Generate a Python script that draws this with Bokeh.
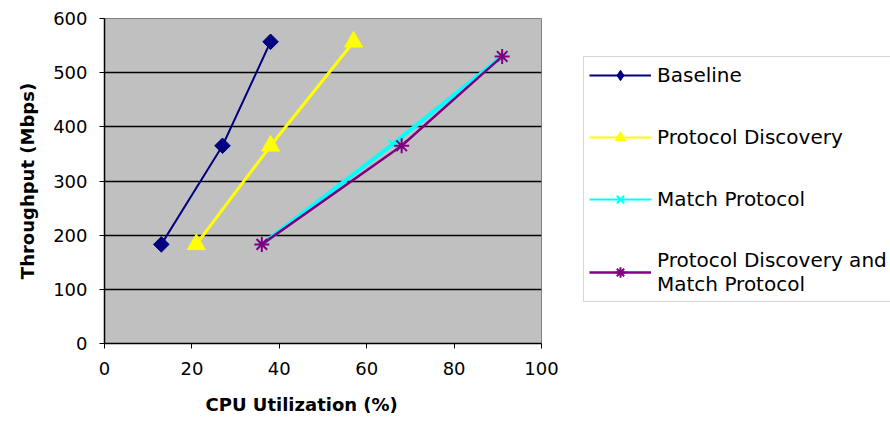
import numpy as np
from bokeh.plotting import figure
from bokeh.layouts import row
from bokeh.models import Legend, LegendItem, FixedTicker, Range1d, Title
from bokeh.embed import file_html
from bokeh.resources import INLINE

# ---- data ----
base_x = [13, 27, 38]
base_y = [183, 365, 557]
pd_x = [21, 38, 57]
pd_y = [183, 365, 557]
mp_x = [36, 66, 91]
mp_y = [183, 368, 530]
pdmp_x = [36, 68, 91]
pdmp_y = [183, 365, 530]
series_names = ["Baseline", "Protocol Discovery", "Match Protocol",
                "Protocol Discovery and\nMatch Protocol"]
x_ticks = [0, 20, 40, 60, 80, 100]
y_ticks = [0, 100, 200, 300, 400, 500, 600]
x_title = "CPU Utilization (%)"
y_title = "Throughput (Mbps)"

FONT = "DejaVu Sans"
C_BASE, C_PD, C_MP, C_PDMP = "#000080", "#FFFF00", "#00FFFF", "#800080"

p = figure(width=583, height=431, output_backend="svg", toolbar_location=None,
           x_range=Range1d(0, 100), y_range=Range1d(0, 600),
           min_border_left=104, min_border_right=42,
           min_border_top=18, min_border_bottom=88)
p.background_fill_color = "#C0C0C0"
p.border_fill_color = "white"
p.outline_line_color = "#808080"
p.outline_line_width = 1

p.xgrid.visible = False
p.ygrid.ticker = FixedTicker(ticks=y_ticks)
p.ygrid.grid_line_color = "black"
p.ygrid.grid_line_width = 1.5

for ax, ticks in ((p.xaxis[0], x_ticks), (p.yaxis[0], y_ticks)):
    ax.ticker = FixedTicker(ticks=ticks)
    ax.axis_line_color = "black"
    ax.axis_line_width = 1.5
    ax.major_tick_line_color = "black"
    ax.major_tick_out = 5
    ax.major_tick_in = 0
    ax.minor_tick_line_color = None
    ax.major_label_text_font = FONT
    ax.major_label_text_font_size = "18px"
    ax.major_label_text_color = "black"
    ax.axis_label_text_font = FONT
    ax.axis_label_text_font_size = "18px"
    ax.axis_label_text_font_style = "bold"
    ax.axis_label_text_color = "black"

p.yaxis.axis_label = y_title
p.xaxis.major_label_standoff = 13
p.yaxis.major_label_standoff = 12
p.yaxis.axis_label_standoff = 12

p.add_layout(Title(text=x_title, align="left", offset=101, standoff=28,
                   text_font=FONT, text_font_size="18px",
                   text_font_style="bold", text_color="black"), "below")

# Baseline
p.line(base_x, base_y, line_color=C_BASE, line_width=2)
p.scatter(base_x, base_y, marker="square", angle=np.pi / 4, size=11,
          fill_color=C_BASE, line_color=C_BASE)
# Protocol Discovery
p.line(pd_x, pd_y, line_color=C_PD, line_width=3)
p.scatter(pd_x, pd_y, marker="triangle", size=18, fill_color=C_PD, line_color=C_PD)
# Match Protocol
p.line(mp_x, mp_y, line_color=C_MP, line_width=4)
p.scatter(mp_x, mp_y, marker="x", size=12, line_color=C_MP, line_width=2)
# Protocol Discovery and Match Protocol
p.line(pdmp_x, pdmp_y, line_color=C_PDMP, line_width=2.5)
p.scatter(pdmp_x, pdmp_y, marker="asterisk", size=15, line_color=C_PDMP, line_width=2)

# ---- legend panel: key samples drawn by proxy renderers whose data lie
#      outside this panel's ranges (so only the legend keys show) ----
q = figure(width=307, height=431, output_backend="svg", toolbar_location=None,
           x_range=Range1d(0, 1), y_range=Range1d(0, 1),
           x_axis_type=None, y_axis_type=None, min_border=0)
q.outline_line_color = None
q.grid.visible = False
q.background_fill_color = "white"
q.border_fill_color = "white"

series_xy = [(base_x, base_y), (pd_x, pd_y), (mp_x, mp_y), (pdmp_x, pdmp_y)]
styles = [("diamond", C_BASE, 2), ("triangle", C_PD, 2),
          ("x", C_MP, 2), ("asterisk", C_PDMP, 2.5)]
items = []
for name, (xs, ys), (mk, col, lw) in zip(series_names, series_xy, styles):
    lr = q.line(xs, ys, line_color=col, line_width=lw)
    mr = q.scatter(xs, ys, marker=mk, fill_color=col, line_color=col,
                   line_width=2 if mk in ("x", "asterisk") else 1)
    items.append(LegendItem(label=name, renderers=[lr, mr]))

# row() aligns this panel's frame with the chart frame (top 18, bottom 343)
legend = Legend(items=items, location=(0, 41),
                padding=5, spacing=36, glyph_width=62, glyph_height=26,
                label_height=26, label_standoff=6,
                label_text_font=FONT, label_text_font_size="20px",
                label_text_color="black", label_text_line_height=1.25,
                border_line_color="#B0B0B0", border_line_width=1,
                background_fill_color="white", background_fill_alpha=1)
q.add_layout(legend, "center")

layout = row(p, q, spacing=0)
open("out.html", "w").write(file_html(layout, INLINE))
